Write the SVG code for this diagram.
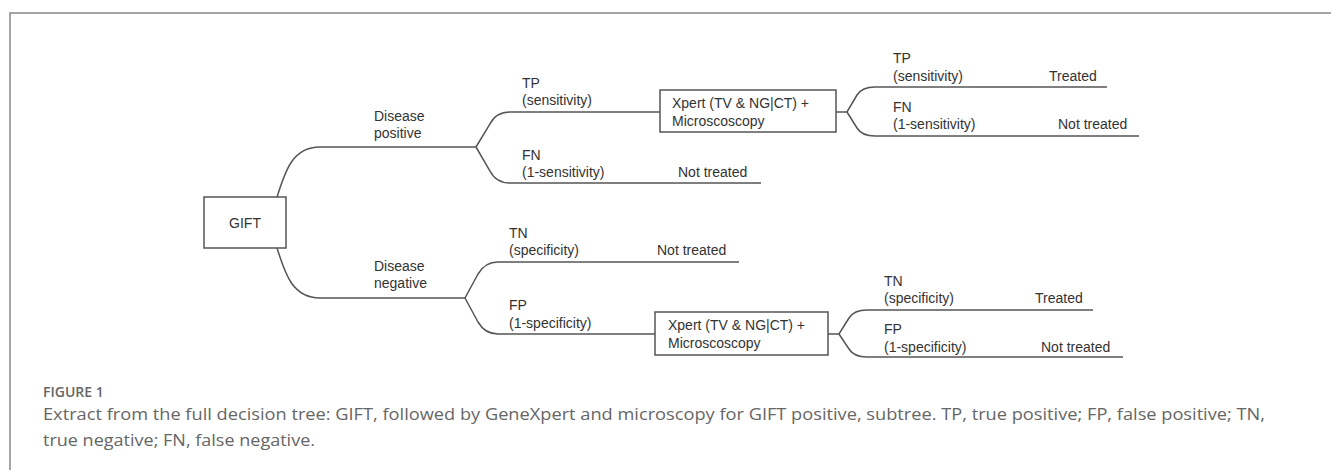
<svg xmlns="http://www.w3.org/2000/svg" width="1331" height="470" viewBox="0 0 1331 470">
<style>
.t{font-family:"Liberation Sans",Arial,sans-serif;font-size:14px;fill:#333}
.b{fill:#fff;stroke:#555;stroke-width:1.5}
.c{fill:none;stroke:#555;stroke-width:1.5}
.cap{font-family:"Open Sans",sans-serif;fill:#666}
</style>
<rect x="0" y="0" width="1331" height="470" fill="#fff"/>
<rect x="10" y="13" width="1340" height="480" fill="none" stroke="#888" stroke-width="1.5"/>
<g id="connectors">
<path class="c" d="M277,197 C285,172 292,147 320,147 H476"/>
<path class="c" d="M277,248 C285,273 292,298 320,298 H465"/>
<path class="c" d="M476,147 L490,124 Q496,112 510,112 H660"/>
<path class="c" d="M476,147 L490,171 Q496,183 510,183 H761"/>
<path class="c" d="M465,298 L478,274 Q485,262 498,262 H739"/>
<path class="c" d="M465,298 L478,322 Q485,334 498,334 H655"/>
<path class="c" d="M836,112 H847 L857,95 Q862,87 875,87 H1107"/>
<path class="c" d="M847,112 L857,128 Q862,136 875,136 H1139"/>
<path class="c" d="M828,334 H839 L849,318 Q854,310 867,310 H1093"/>
<path class="c" d="M839,334 L849,349 Q854,357 867,357 H1123"/>
</g>
<g id="gift">
<rect class="b" x="204" y="197" width="82" height="51"/>
<text class="t" x="245" y="228" text-anchor="middle">GIFT</text>
</g>
<g id="disease-positive">
<text class="t" x="374" y="121">Disease</text>
<text class="t" x="374" y="138">positive</text>
</g>
<g id="disease-negative">
<text class="t" x="374" y="271">Disease</text>
<text class="t" x="374" y="288">negative</text>
</g>
<g id="tp1">
<text class="t" x="522" y="88">TP</text>
<text class="t" x="522" y="105">(sensitivity)</text>
</g>
<g id="fn1">
<text class="t" x="522" y="160">FN</text>
<text class="t" x="522" y="177">(1-sensitivity)</text>
<text class="t" x="678" y="177">Not treated</text>
</g>
<g id="xpert1">
<rect class="b" x="660" y="90" width="176" height="42"/>
<text class="t" x="672" y="108">Xpert (TV &amp; NG|CT) +</text>
<text class="t" x="672" y="126">Microscoscopy</text>
</g>
<g id="tp2">
<text class="t" x="893" y="63">TP</text>
<text class="t" x="893" y="81">(sensitivity)</text>
<text class="t" x="1049" y="81">Treated</text>
</g>
<g id="fn2">
<text class="t" x="893" y="112">FN</text>
<text class="t" x="893" y="129">(1-sensitivity)</text>
<text class="t" x="1058" y="129">Not treated</text>
</g>
<g id="tn1">
<text class="t" x="509" y="238">TN</text>
<text class="t" x="509" y="255">(specificity)</text>
<text class="t" x="657" y="255">Not treated</text>
</g>
<g id="fp1">
<text class="t" x="509" y="310">FP</text>
<text class="t" x="509" y="328">(1-specificity)</text>
</g>
<g id="xpert2">
<rect class="b" x="655" y="312" width="173" height="43"/>
<text class="t" x="668" y="330">Xpert (TV &amp; NG|CT) +</text>
<text class="t" x="668" y="348">Microscoscopy</text>
</g>
<g id="tn2">
<text class="t" x="884" y="286">TN</text>
<text class="t" x="884" y="303">(specificity)</text>
<text class="t" x="1035" y="303">Treated</text>
</g>
<g id="fp2">
<text class="t" x="884" y="334">FP</text>
<text class="t" x="884" y="352">(1-specificity)</text>
<text class="t" x="1041" y="352">Not treated</text>
</g>
<g id="caption">
<text class="cap" x="43" y="397" font-size="14" font-weight="600">FIGURE 1</text>
<text class="cap" x="43" y="420" font-size="17" textLength="1222" lengthAdjust="spacingAndGlyphs">Extract from the full decision tree: GIFT, followed by GeneXpert and microscopy for GIFT positive, subtree. TP, true positive; FP, false positive; TN,</text>
<text class="cap" x="43" y="446" font-size="17" textLength="272" lengthAdjust="spacingAndGlyphs">true negative; FN, false negative.</text>
</g>
</svg>
